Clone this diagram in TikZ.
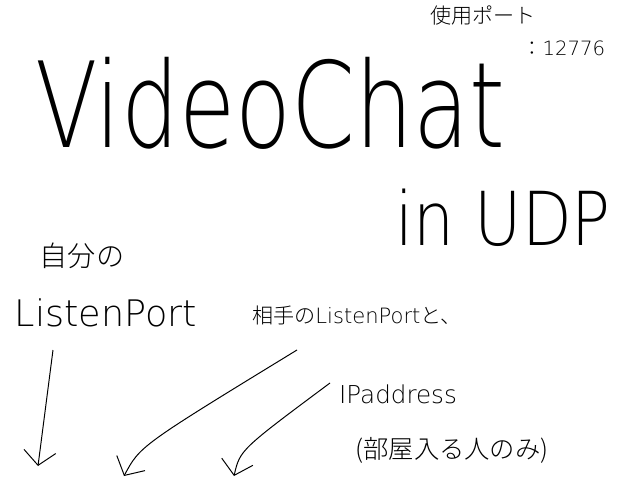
\documentclass[tikz,border=0pt]{standalone}
\usepackage{fontspec}
\setmainfont{DejaVu Sans}[UprightFont=* ExtraLight]
\newfontfamily\jpfont{Noto Sans CJK JP}[UprightFont=* Light]
\usetikzlibrary{arrows.meta}

\begin{document}
\begin{tikzpicture}[x=0.025cm, y=-0.025cm,
  sketchtext/.style={inner sep=0pt, text=black},
  sketcharrow/.style={-{Straight Barb[length=3.5mm, width=8mm]}, line width=0.7pt}
]
\useasboundingbox (0,0) rectangle (640,480);
\node[sketchtext, font=\jpfont\fontsize{15}{16}\selectfont] (port-label) at (483,15) {使用ポート};
\node[sketchtext, font=\fontsize{14}{16}\selectfont] (port-number) at (564,48) {\jpfont：\rmfamily 12776};
\node[sketchtext, font=\fontsize{65}{70}\selectfont] (title) at (270,103) {\scalebox{1}[1.3]{VideoChat}};
\node[sketchtext, font=\fontsize{46}{50}\selectfont] (subtitle) at (503,218) {\scalebox{1}[1.15]{in UDP}};
\node[sketchtext, font=\jpfont\fontsize{20}{22}\selectfont] (own-label) at (82,256) {自分の};
\node[sketchtext, font=\fontsize{26}{28}\selectfont] (own-port) at (106,313) {ListenPort};
\node[sketchtext, font=\fontsize{15}{17}\selectfont] (peer-port) at (357,315) {\jpfont 相手の\rmfamily ListenPort\jpfont と、};
\node[sketchtext, font=\fontsize{17.5}{19}\selectfont] (peer-addr) at (398,394) {IPaddress};
\node[sketchtext, font=\jpfont\fontsize{18}{20}\selectfont] (room-note) at (452,450) {(部屋入る人のみ)};
\coordinate (own-from) at (53,350);
\coordinate (own-to) at (38,466);
\coordinate (peer-from) at (297,350);
\coordinate (peer-bend) at (140,446);
\coordinate (peer-to) at (124,476);
\coordinate (addr-from) at (330,383);
\coordinate (addr-bend) at (240,450);
\coordinate (addr-to) at (234,476);
\draw[sketcharrow] (own-from) -- (own-to);
\draw[sketcharrow] (peer-from) .. controls (peer-bend) .. (peer-to);
\draw[sketcharrow] (addr-from) .. controls (addr-bend) .. (addr-to);
\end{tikzpicture}
\end{document}
